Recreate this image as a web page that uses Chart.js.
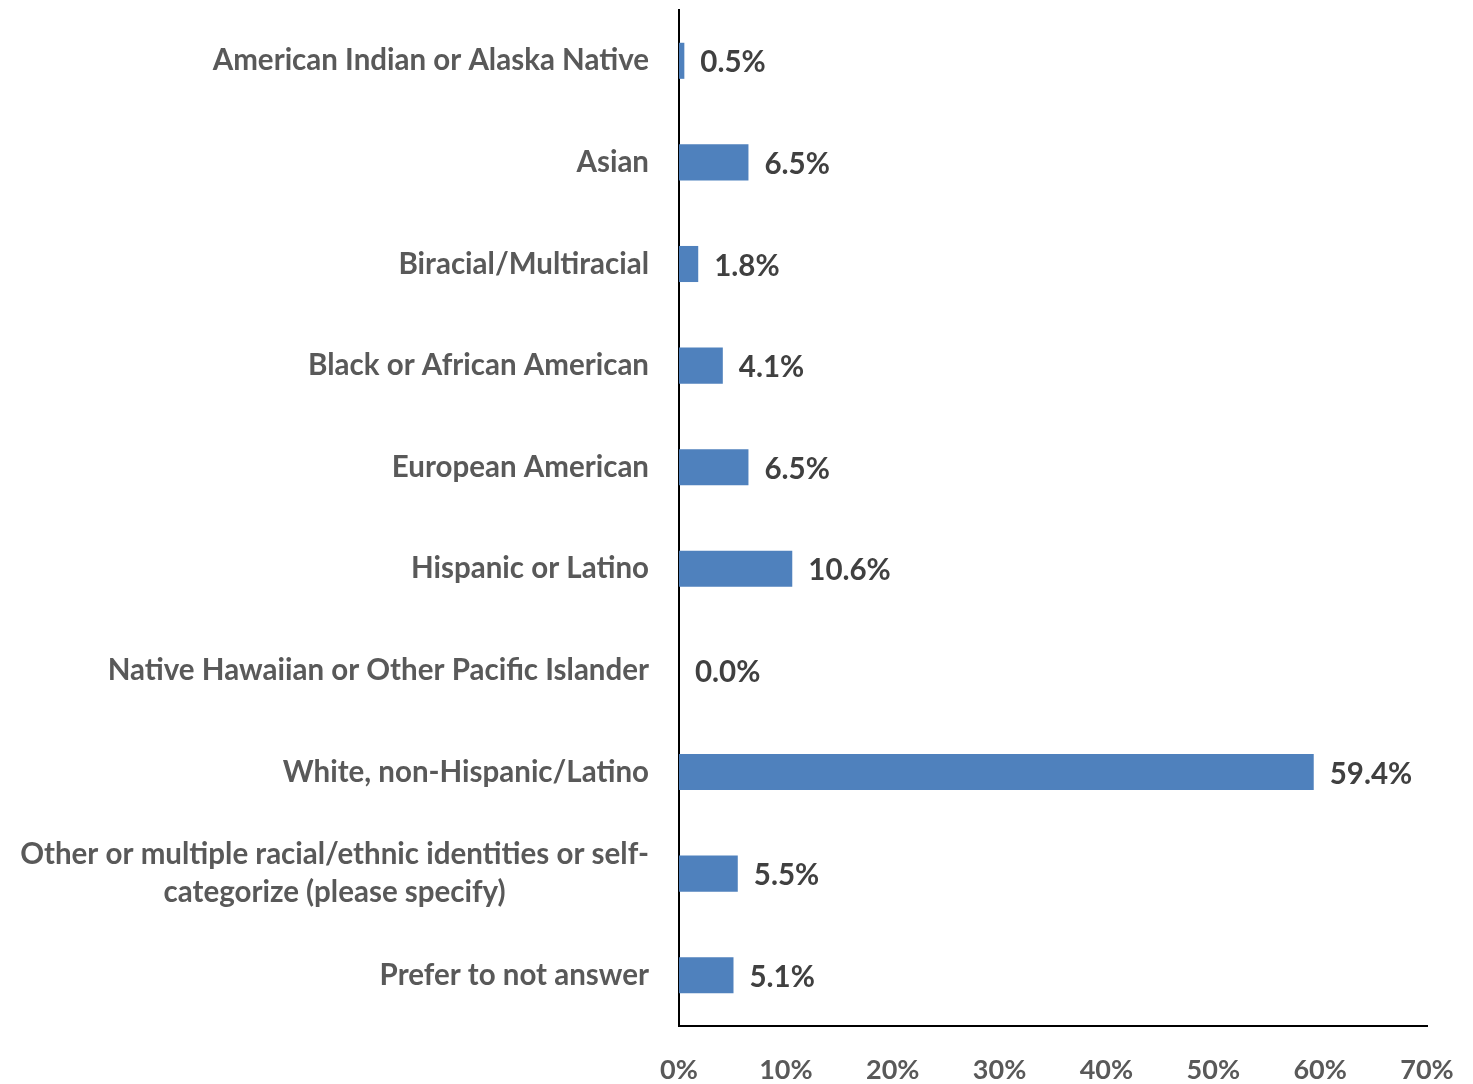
<!DOCTYPE html>
<html>
<head>
<meta charset="utf-8">
<script src="https://cdn.jsdelivr.net/npm/chart.js@4"></script>
<style>
  body { margin: 0; background: #fff; }
  #wrap { width: 1473px; height: 1084px; position: relative; }
</style>
</head>
<body>
<div id="wrap"><canvas id="race-chart"></canvas></div>
<script>
/**
 *  Chart data
 */
var categories = [
    'American Indian or Alaska Native',
    'Asian',
    'Biracial/Multiracial',
    'Black or African American',
    'European American',
    'Hispanic or Latino',
    'Native Hawaiian or Other Pacific Islander',
    'White, non-Hispanic/Latino',
    ['Other or multiple racial/ethnic identities or self-', 'categorize (please specify)'],
    'Prefer to not answer'
];
var percentages = [0.5, 6.5, 1.8, 4.1, 6.5, 10.6, 0.0, 59.4, 5.5, 5.1];
var xTicks = [0, 10, 20, 30, 40, 50, 60, 70];

var labelFont = 'bold 29.5px Lato, "Open Sans", sans-serif';

/**
 *  Draw category labels (centred lines, right edge at the axis) and value labels
 */
var labelsPlugin = {
    id: 'labelsPlugin',
    afterDatasetsDraw: function (chart) {
        var ctx = chart.ctx;
        var yScale = chart.scales.y;
        var meta = chart.getDatasetMeta(0);
        ctx.save();
        ctx.font = labelFont;
        ctx.textBaseline = 'middle';

        // value labels
        ctx.fillStyle = '#404040';
        ctx.textAlign = 'left';
        meta.data.forEach(function (bar, i) {
            ctx.fillText(percentages[i].toFixed(1) + '%', bar.x + 16, bar.y + 2);
        });

        // category labels
        ctx.fillStyle = '#595959';
        var rightEdge = yScale.right - 30;
        categories.forEach(function (cat, i) {
            var y = yScale.getPixelForValue(i);
            var lines = Array.isArray(cat) ? cat : [cat];
            var widest = Math.max.apply(null, lines.map(function (l) { return ctx.measureText(l).width; }));
            var centre = rightEdge - widest / 2;
            var lineHeight = 38;
            var top = y - (lines.length - 1) * lineHeight / 2;
            ctx.textAlign = 'center';
            lines.forEach(function (l, j) {
                ctx.fillText(l, centre, top + j * lineHeight);
            });
        });
        ctx.restore();
    }
};

var ctx = document.getElementById('race-chart').getContext('2d');
var raceChart = new Chart(ctx, {
    type: 'bar',
    data: {
        labels: categories,
        datasets: [{
            data: percentages,
            backgroundColor: '#4F81BD',
            barPercentage: 0.355,
            categoryPercentage: 1.0
        }]
    },
    options: {
        indexAxis: 'y',
        responsive: true,
        maintainAspectRatio: false,
        animation: false,
        layout: {
            padding: { top: 10, right: 46, left: 0, bottom: 0 }
        },
        plugins: {
            legend: { display: false },
            tooltip: { enabled: false }
        },
        scales: {
            x: {
                min: 0,
                max: 70,
                afterBuildTicks: function (scale) {
                    scale.ticks = xTicks.map(function (v) { return { value: v }; });
                },
                afterFit: function (scale) {
                    scale.height = 58;
                    scale.paddingLeft = 0;
                    scale.paddingRight = 0;
                },
                grid: { display: false, drawTicks: false },
                border: { display: true, color: '#000', width: 2 },
                ticks: {
                    padding: 28,
                    color: '#595959',
                    font: { family: 'Lato, "Open Sans", sans-serif', size: 27, weight: 'bold' },
                    callback: function (value) {
                        return value + '%';
                    }
                }
            },
            y: {
                afterFit: function (scale) {
                    scale.width = 679;
                },
                grid: { display: false, drawTicks: false },
                border: { display: true, color: '#000', width: 2 },
                ticks: { display: false }
            }
        }
    },
    plugins: [labelsPlugin]
});
</script>
</body>
</html>
